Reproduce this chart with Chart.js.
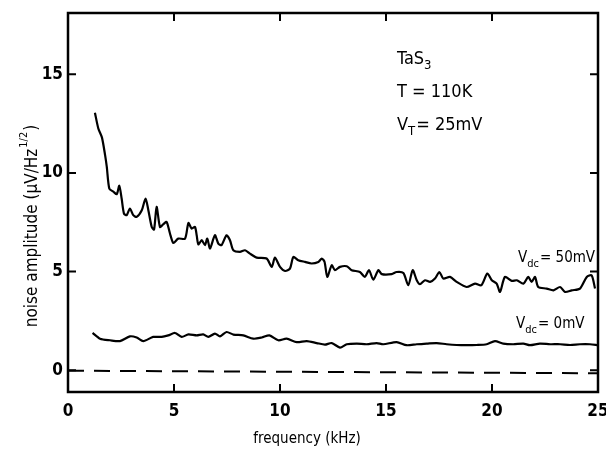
<!DOCTYPE html>
<html>
<head>
<meta charset="utf-8">
<script src="https://cdn.jsdelivr.net/npm/chart.js@4.4.1/dist/chart.umd.min.js"></script>
<style>
  html, body { margin: 0; padding: 0; background: #fff; }
  #wrap { width: 606px; height: 454px; }
</style>
</head>
<body>
<div id="wrap"><canvas id="c" width="606" height="454"></canvas></div>
<script>
// ---- data ----
const xTicks = [0, 5, 10, 15, 20, 25];
const yTicks = [0, 5, 10, 15];

const upperFreq = [1.27,1.43,1.6,1.75,1.83,1.95,2.14,2.3,2.42,2.53,2.64,2.77,2.92,3.08,3.24,3.48,3.66,3.79,3.95,4.06,4.18,4.34,4.5,4.65,4.81,4.97,5.2,5.52,5.68,5.83,5.99,6.07,6.15,6.31,6.46,6.57,6.7,6.93,7.09,7.24,7.48,7.64,7.8,8.11,8.35,8.58,8.9,9.37,9.61,9.76,10.0,10.24,10.47,10.63,10.86,11.18,11.49,11.81,11.97,12.1,12.23,12.44,12.59,12.83,13.15,13.38,13.77,14.0,14.2,14.4,14.64,14.8,15.27,15.5,15.82,16.05,16.26,16.45,16.6,16.84,17.08,17.31,17.52,17.7,18.02,18.33,18.8,19.2,19.5,19.78,19.99,20.22,20.38,20.61,20.93,21.17,21.48,21.71,21.87,22.03,22.18,22.58,22.9,23.21,23.44,23.76,24.15,24.47,24.7,24.86];
const upperAmp  = [13.05,12.25,11.8,10.9,10.3,9.2,9.05,8.92,9.35,8.7,7.94,7.86,8.19,7.86,7.77,8.11,8.7,8.11,7.26,7.13,8.28,7.26,7.4,7.52,6.93,6.45,6.67,6.67,7.46,7.18,7.26,6.84,6.38,6.59,6.34,6.67,6.17,6.84,6.42,6.34,6.84,6.59,6.08,6.0,6.08,5.91,5.71,5.66,5.24,5.71,5.24,5.03,5.15,5.74,5.58,5.49,5.41,5.49,5.66,5.5,4.73,5.32,5.07,5.24,5.27,5.07,4.98,4.73,5.07,4.59,5.07,4.87,4.87,4.98,4.93,4.31,5.07,4.56,4.36,4.56,4.48,4.65,4.98,4.65,4.73,4.48,4.22,4.39,4.31,4.9,4.56,4.39,3.97,4.73,4.53,4.56,4.39,4.73,4.48,4.73,4.22,4.14,4.05,4.22,3.97,4.05,4.14,4.73,4.81,4.14];

const lowerFreq = [1.16,1.51,1.98,2.45,2.92,3.24,3.55,4.02,4.42,4.73,5.05,5.36,5.68,6.07,6.38,6.62,6.93,7.17,7.48,7.8,8.27,8.74,9.14,9.5,9.92,10.31,10.79,11.26,11.73,12.12,12.44,12.83,13.15,13.62,14.09,14.56,14.87,15.5,15.97,16.45,16.92,17.39,17.86,18.33,18.8,19.28,19.75,20.14,20.53,21.0,21.48,21.79,22.26,22.74,23.21,23.68,24.15,24.62,25.0];
const lowerAmp  = [1.89,1.6,1.52,1.48,1.72,1.66,1.48,1.69,1.69,1.77,1.89,1.69,1.82,1.77,1.82,1.69,1.86,1.72,1.94,1.81,1.77,1.6,1.66,1.77,1.52,1.6,1.43,1.48,1.38,1.3,1.38,1.15,1.32,1.35,1.32,1.38,1.32,1.43,1.27,1.32,1.35,1.38,1.32,1.28,1.27,1.28,1.32,1.48,1.35,1.32,1.35,1.27,1.35,1.32,1.32,1.28,1.32,1.32,1.27];

const baseFreq = [0, 25];
const baseAmp  = [-0.02, -0.15];

const toXY = (xs, ys) => xs.map((x, i) => ({ x: x, y: ys[i] }));

const FONT = "'DejaVu Sans Condensed', 'DejaVu Sans', sans-serif";

const decor = {
  id: 'decor',
  afterDraw(chart) {
    const ctx = chart.ctx;
    const a = chart.chartArea;
    const xs = chart.scales.x, ys = chart.scales.y;
    ctx.save();
    ctx.strokeStyle = '#000';
    ctx.lineWidth = 2.5;
    ctx.strokeRect(a.left, a.top, a.right - a.left, a.bottom - a.top);
    ctx.lineWidth = 2;
    const tl = 8;
    xTicks.forEach(v => {
      if (v === 0 || v === 25) return;
      const px = xs.getPixelForValue(v);
      ctx.beginPath();
      ctx.moveTo(px, a.bottom); ctx.lineTo(px, a.bottom - tl);
      ctx.moveTo(px, a.top); ctx.lineTo(px, a.top + tl);
      ctx.stroke();
    });
    yTicks.forEach(v => {
      const py = ys.getPixelForValue(v);
      ctx.beginPath();
      ctx.moveTo(a.left, py); ctx.lineTo(a.left + tl, py);
      ctx.moveTo(a.right, py); ctx.lineTo(a.right - tl, py);
      ctx.stroke();
    });

    ctx.fillStyle = '#000';
    // y-axis title with superscript
    ctx.save();
    ctx.translate(37, 226);
    ctx.rotate(-Math.PI / 2);
    const mainF = '17px ' + FONT;
    const supF = '11px ' + FONT;
    const t1 = 'noise amplitude (\u03bcV/Hz';
    const t2 = '1/2';
    const t3 = ')';
    ctx.font = mainF; const w1 = ctx.measureText(t1).width; const w3 = ctx.measureText(t3).width;
    ctx.font = supF; const w2 = ctx.measureText(t2).width;
    let sx = -(w1 + w2 + w3 + 2) / 2;
    ctx.textBaseline = 'alphabetic';
    ctx.font = mainF; ctx.fillText(t1, sx, 0); sx += w1 + 1;
    ctx.font = supF; ctx.fillText(t2, sx, -10); sx += w2 + 1;
    ctx.font = mainF; ctx.fillText(t3, sx, 0);
    ctx.restore();

    // x-axis title
    ctx.font = '15px ' + FONT;
    ctx.textAlign = 'center';
    ctx.textBaseline = 'alphabetic';
    ctx.fillText('frequency (kHz)', 307, 443);

    // annotations
    ctx.textAlign = 'left';
    const sub = (x, y, main, s, rest, size) => {
      ctx.font = size + 'px ' + FONT;
      ctx.fillText(main, x, y);
      let cx = x + ctx.measureText(main).width;
      ctx.font = Math.round(size * 0.7) + 'px ' + FONT;
      ctx.fillText(s, cx, y + 5);
      cx += ctx.measureText(s).width;
      ctx.font = size + 'px ' + FONT;
      ctx.fillText(rest, cx + 1, y);
    };
    sub(397, 64, 'TaS', '3', '', 18);
    ctx.font = '18px ' + FONT;
    ctx.fillText('T = 110K', 397, 97);
    sub(397, 130, 'V', 'T', '= 25mV', 18);
    sub(518, 262, 'V', 'dc', '= 50mV', 15);
    sub(516, 328, 'V', 'dc', '= 0mV', 15);
    ctx.restore();
  }
};

new Chart(document.getElementById('c'), {
  type: 'line',
  data: {
    datasets: [
      { data: toXY(upperFreq, upperAmp), borderColor: '#000', borderWidth: 2.2, pointRadius: 0, tension: 0.25, fill: false },
      { data: toXY(lowerFreq, lowerAmp), borderColor: '#000', borderWidth: 2.2, pointRadius: 0, tension: 0.25, fill: false },
      { data: toXY(baseFreq, baseAmp), borderColor: '#000', borderWidth: 2, borderDash: [16, 10], pointRadius: 0, fill: false }
    ]
  },
  plugins: [decor],
  options: {
    responsive: false,
    animation: false,
    events: [],
    layout: { padding: { top: 13, right: 8, left: 0, bottom: 0 } },
    plugins: { legend: { display: false }, tooltip: { enabled: false } },
    scales: {
      x: {
        type: 'linear', min: 0, max: 25,
        afterBuildTicks: s => { s.ticks = xTicks.map(v => ({ value: v })); },
        afterFit: s => { s.height = 62; s.paddingLeft = 0; s.paddingRight = 0; },
        grid: { display: false, drawTicks: false },
        border: { display: false },
        ticks: { color: '#000', padding: 9, maxRotation: 0, font: { family: FONT, size: 17, weight: 'bold' } }
      },
      y: {
        type: 'linear', min: -1.1, max: 18.1,
        afterBuildTicks: s => { s.ticks = yTicks.map(v => ({ value: v })); },
        afterFit: s => { s.width = 68; s.paddingTop = 0; s.paddingBottom = 0; },
        grid: { display: false, drawTicks: false },
        border: { display: false },
        ticks: { color: '#000', padding: 5, font: { family: FONT, size: 17, weight: 'bold' } }
      }
    }
  }
});
</script>
</body>
</html>
